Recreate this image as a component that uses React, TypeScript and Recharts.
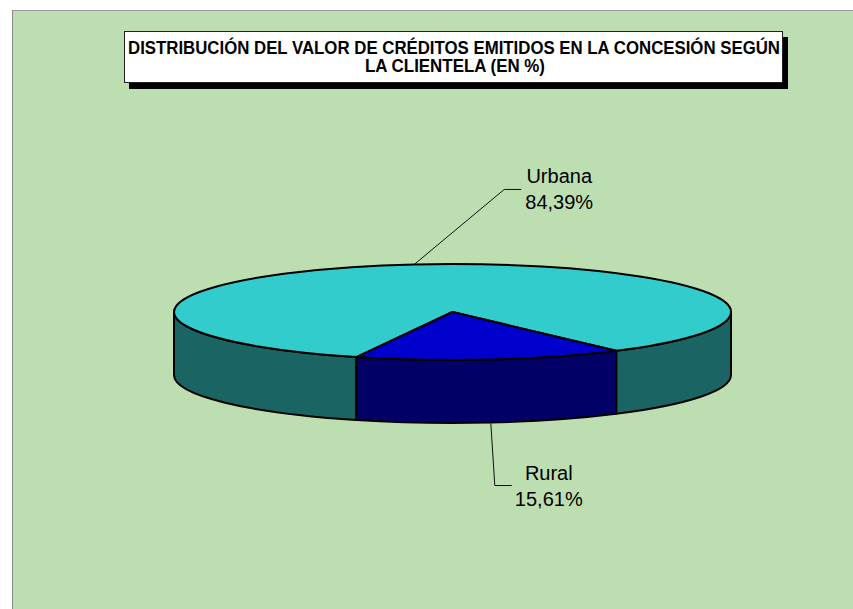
import React from 'react';
import { PieChart, Pie, Cell } from 'recharts';

const categories = ['Urbana', 'Rural'];
const shares = [84.39, 15.61];
const titleLines = [
  'DISTRIBUCIÓN DEL VALOR DE CRÉDITOS EMITIDOS EN LA CONCESIÓN SEGÚN',
  'LA CLIENTELA (EN %)',
];

const topColors = ['#33CCCC', '#0000CC'];
const sideColors = ['#1B6464', '#000066'];

const data = categories.map((name, i) => ({ name, value: shares[i] }));

// flattened ellipse for the fake 3D look
const RX = 278.5;
const RY = 48;
const DEPTH = 63;

// label line + text offsets from the anchor point on the pie edge
const labelLayout = [
  { elbow: [90, -75], end: [107, -75], text: [145, -81] },
  { elbow: [4, 63], end: [21, 63], text: [58, 57] },
];

const rad = (d: number) => (d * Math.PI) / 180;
const pt = (cx: number, cy: number, deg: number, drop = 0) =>
  [cx + RX * Math.cos(rad(deg)), cy - RY * Math.sin(rad(deg)) + drop] as const;

function frontParts(s: number, e: number) {
  const parts: [number, number][] = [];
  for (let k = -2; k <= 2; k++) {
    const a = Math.max(s, 180 + 360 * k);
    const b = Math.min(e, 360 + 360 * k);
    if (b > a) parts.push([a, b]);
  }
  return parts;
}

function PieSlice3D(props: any) {
  const { cx, cy, startAngle, endAngle, midAngle, index } = props;
  const s = Math.min(startAngle, endAngle);
  const e = Math.max(startAngle, endAngle);

  const sides = frontParts(s, e).map(([a, b], k) => {
    const [x1, y1] = pt(cx, cy, a);
    const [x2, y2] = pt(cx, cy, b);
    const [x3, y3] = pt(cx, cy, b, DEPTH);
    const [x4, y4] = pt(cx, cy, a, DEPTH);
    const d = `M${x1},${y1} A${RX},${RY} 0 0 0 ${x2},${y2} L${x3},${y3} A${RX},${RY} 0 0 1 ${x4},${y4} Z`;
    return (
      <path key={k} d={d} fill={sideColors[index]} stroke="#000" strokeWidth={2} strokeLinejoin="round" />
    );
  });

  const [sx, sy] = pt(cx, cy, s);
  const [ex, ey] = pt(cx, cy, e);
  const large = e - s > 180 ? 1 : 0;
  const top = `M${cx},${cy} L${sx},${sy} A${RX},${RY} 0 ${large} 0 ${ex},${ey} Z`;

  const front = Math.sin(rad(midAngle)) < 0;
  const [ax, ay] = pt(cx, cy, midAngle, front ? DEPTH : 0);
  const lay = labelLayout[index];
  const tx = ax + lay.text[0];
  const ty = ay + lay.text[1];

  return (
    <g>
      {sides}
      <path d={top} fill={topColors[index]} stroke="#000" strokeWidth={2} strokeLinejoin="round" />
      <polyline
        points={`${ax},${ay} ${ax + lay.elbow[0]},${ay + lay.elbow[1]} ${ax + lay.end[0]},${ay + lay.end[1]}`}
        fill="none"
        stroke="#111"
        strokeWidth={1}
      />
      <text x={tx} y={ty} textAnchor="middle" fontSize={20} fill="#000" fontFamily="'Liberation Sans', Arial, sans-serif">
        <tspan x={tx}>{categories[index]}</tspan>
        <tspan x={tx} dy={26}>{shares[index].toFixed(2).replace('.', ',')}%</tspan>
      </text>
    </g>
  );
}

export default function App() {
  return (
    <div style={{ position: 'absolute', left: 0, top: 0, width: 853, height: 609, background: '#fff', overflow: 'hidden' }}>
      <div
        style={{
          position: 'absolute',
          left: 12,
          top: 10,
          right: 0,
          bottom: 0,
          background: '#BDDEB1',
          borderLeft: '1.5px solid #8a8a8a',
          borderTop: '1.5px solid #9a9a9a',
        }}
      />
      <svg width={853} height={609} style={{ position: 'absolute', left: 0, top: 0 }}>
        <rect x={129} y={37} width={659} height={52} fill="#000" />
        <rect x={124.5} y={31.5} width={658} height={51} fill="#fff" stroke="#222" strokeWidth={1} />
        <text x={454} y={53.5} textAnchor="middle" fontSize={17.5} fontWeight="bold" fontFamily="'Liberation Sans', Arial, sans-serif" textLength={652} lengthAdjust="spacingAndGlyphs">
          {titleLines[0]}
        </text>
        <text x={455} y={72} textAnchor="middle" fontSize={17.5} fontWeight="bold" fontFamily="'Liberation Sans', Arial, sans-serif" textLength={180} lengthAdjust="spacingAndGlyphs">
          {titleLines[1]}
        </text>
      </svg>
      <div style={{ position: 'absolute', left: 0, top: 0 }}>
        <PieChart width={853} height={609} margin={{ top: 0, right: 0, bottom: 0, left: 0 }}>
          <Pie
            data={data}
            dataKey="value"
            nameKey="name"
            cx={452.5}
            cy={312}
            outerRadius={RX}
            startAngle={-54}
            endAngle={306}
            stroke="none"
            label={PieSlice3D}
            labelLine={false}
            isAnimationActive={false}
          >
            {data.map((d) => (
              <Cell key={d.name} fill="none" />
            ))}
          </Pie>
        </PieChart>
      </div>
    </div>
  );
}
